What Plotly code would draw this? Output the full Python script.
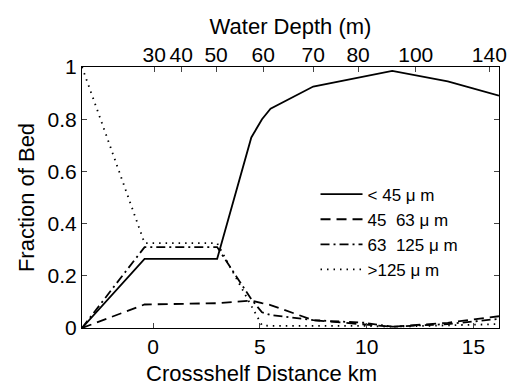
import plotly.graph_objects as go

# Crossshelf distance (km) of sample stations
dist_km = [-3.33, -0.4, 3.0, 4.6, 5.1, 5.5, 7.5, 9.9, 11.2, 13.8, 16.2]

# Fractions of bed by grain-size class
frac_lt45 = [0.0, 0.265, 0.265, 0.73, 0.80, 0.84, 0.925, 0.965, 0.985, 0.945, 0.89]
frac_45_63 = [0.0, 0.09, 0.095, 0.105, 0.095, 0.088, 0.03, 0.015, 0.005, 0.02, 0.045]
frac_63_125 = [0.0, 0.31, 0.31, 0.11, 0.06, 0.05, 0.03, 0.02, 0.005, 0.015, 0.035]
frac_gt125 = [1.0, 0.325, 0.325, 0.085, 0.01, 0.008, 0.008, 0.008, 0.005, 0.01, 0.015]

series_names = ["< 45 \u03bc m", "45\u00a0\u00a063 \u03bc m", "63\u00a0\u00a0125 \u03bc m", ">125 \u03bc m"]

# Top axis: water depth ticks located at crossshelf distances
depth_tick_km = [0.05, 1.32, 2.95, 5.16, 7.5, 9.6, 12.3, 15.75]
depth_tick_labels = ["30", "40", "50", "60", "70", "80", "100", "140"]

x_ticks = [0, 5, 10, 15]
y_ticks = [0, 0.2, 0.4, 0.6, 0.8, 1]
y_tick_labels = ["0", "0.2", "0.4", "0.6", "0.8", "1"]

FONT = "Liberation Sans, Arial, Helvetica, sans-serif"

fig = go.Figure()
dashes = ["solid", "10px,6px", "9px,4px,2px,4px", "1.5px,5px"]
for vals, name, d in zip([frac_lt45, frac_45_63, frac_63_125, frac_gt125], series_names, dashes):
    fig.add_trace(go.Scatter(x=dist_km, y=vals, mode="lines", name=name,
                             line=dict(color="black", width=1.8, dash=d)))

# invisible trace to activate top axis
fig.add_trace(go.Scatter(x=[dist_km[0], dist_km[-1]], y=[0, 0], xaxis="x2", mode="lines",
                         line=dict(width=0), showlegend=False, hoverinfo="skip"))

xr = [dist_km[0], dist_km[-1]]
fig.update_layout(
    width=512, height=386,
    margin=dict(l=82, r=13, t=67, b=58),
    paper_bgcolor="white", plot_bgcolor="white",
    font=dict(family=FONT, size=21, color="black"),
    showlegend=True,
    legend=dict(x=0.56, y=0.58, xanchor="left", yanchor="top",
                bgcolor="rgba(0,0,0,0)", borderwidth=0, itemwidth=42,
                font=dict(size=17, family=FONT)),
    xaxis=dict(range=xr, tickvals=x_ticks, ticks="inside", ticklen=5, tickwidth=1,
               showline=True, linecolor="black", linewidth=1, mirror=True,
               showgrid=False, zeroline=False, automargin=False),
    xaxis2=dict(range=xr, overlaying="x", side="top", tickvals=depth_tick_km,
                ticktext=depth_tick_labels, ticks="inside", ticklen=5, tickwidth=1,
                showline=False, showgrid=False, zeroline=False, automargin=False,
                title=dict(text="Water Depth (m)", font=dict(size=22), standoff=2)),
    yaxis=dict(range=[0, 1], tickvals=y_ticks, ticktext=y_tick_labels, ticks="inside",
               ticklen=5, tickwidth=1, showline=True, linecolor="black", linewidth=1,
               mirror="ticks", showgrid=False, zeroline=False, automargin=False,
               title=dict(text="Fraction of Bed", font=dict(size=22), standoff=6)),
    annotations=[dict(text="Crossshelf Distance km", xref="paper", yref="paper",
                      x=0.43, y=-0.175, xanchor="center", yanchor="middle",
                      showarrow=False, font=dict(size=22))],
)

fig.write_html("out.html")
